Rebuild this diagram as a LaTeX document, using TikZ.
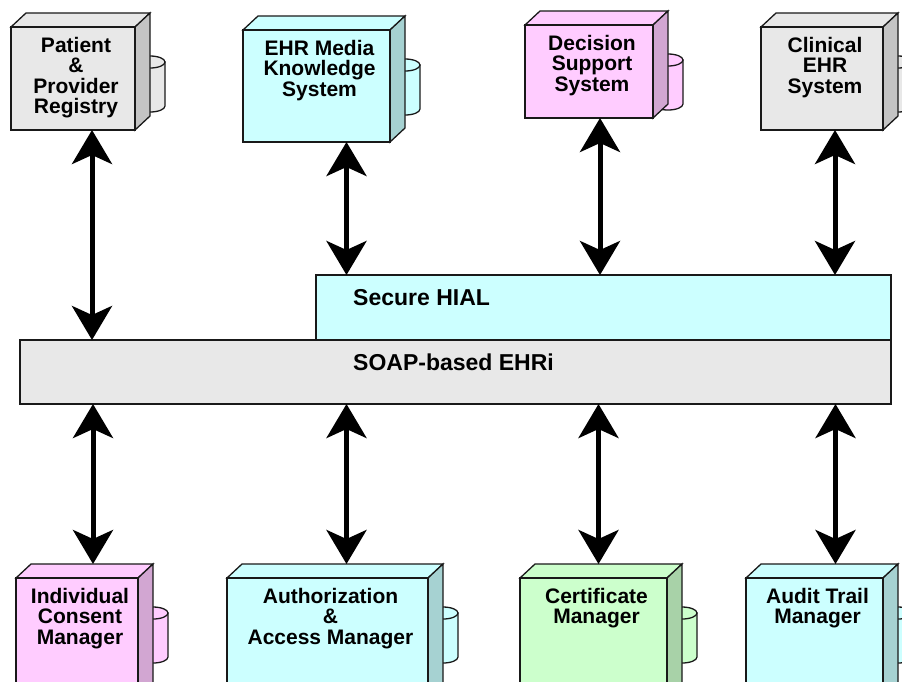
\documentclass[tikz,border=0pt]{standalone}
\usepackage{fontspec}
\setmainfont{Liberation Sans}
\usepackage{xcolor}
\definecolor{ehrgray}{HTML}{E8E8E8}
\definecolor{ehrgrayside}{HTML}{C4C4C4}
\definecolor{ehrcyan}{HTML}{CCFFFF}
\definecolor{ehrcyanside}{HTML}{A6D2D2}
\definecolor{ehrpink}{HTML}{FFCCFF}
\definecolor{ehrpinkside}{HTML}{D2A6D2}
\definecolor{ehrgreen}{HTML}{CCFFCC}
\definecolor{ehrgreenside}{HTML}{A8D2A8}
\usetikzlibrary{arrows.meta,positioning,calc}
\tikzset{
  ehredge/.style={draw=black!90,line width=1.3pt,line join=miter},
  ehrface/.style={ehredge,inner sep=0pt,outer sep=0pt},
  ehrtext/.style={font=\bfseries\fontsize{21}{20.5}\selectfont,align=center,inner sep=0pt},
  ehrbar/.style={ehredge,inner sep=0pt,outer sep=0pt,anchor=north west},
  ehrtitle/.style={font=\bfseries\fontsize{23}{24}\selectfont,inner sep=0pt},
  ehrflow/.style={<->,>={Stealth[length=34pt,width=40pt,inset=9pt]},line width=5pt},
}
% 3-D component box with a store behind it:
% #1 name, #2/#3 front top-left corner, #4 width, #5 height, #6 colour, #7 label
\newcommand{\ehrnode}[7]{%
  \filldraw[ehredge,fill=ehr#6] ({#2+#4},{#3+35}) -- ({#2+#4+30},{#3+35})
    -- ({#2+#4+30},{#3+79}) arc[start angle=0,end angle=180,x radius=15,y radius=6] -- cycle;
  \filldraw[ehredge,fill=ehr#6] ({#2+#4+15},{#3+35}) ellipse[x radius=15,y radius=6];
  \filldraw[ehredge,fill=ehr#6] (#2,#3) -- ++(15,-14) -- ++(#4,0) -- ++(-15,14) -- cycle;
  \filldraw[ehredge,fill=ehr#6side] ({#2+#4},#3) -- ++(15,-14) -- ++(0,#5) -- ++(-15,14) -- cycle;
  \node[ehrface,fill=ehr#6,minimum width=#4,minimum height=#5,anchor=north west] (#1) at (#2,#3) {};
  \node[ehrtext,anchor=north] at ([xshift=3,yshift=-10]#1.north) {#7};
}

\begin{document}
\begin{tikzpicture}[x=1pt,y=-1pt]
\useasboundingbox (0,0) rectangle (902,681);
\clip (0,0) rectangle (902,681);

% buses
\node[ehrbar,fill=ehrcyan,minimum width=575,minimum height=65] (hial) at (316,275) {};
\node[ehrbar,fill=ehrgray,minimum width=871,minimum height=64] (soap) at (20,340) {};
\node[ehrtitle,anchor=west] at ([xshift=37,yshift=-23]hial.north west) {Secure HIAL};
\node[ehrtitle] at ([xshift=-2,yshift=-22]soap.north) {SOAP-based EHRi};

% upper services
\ehrnode{pat}{11}{27}{124}{103}{gray}{Patient\\\&\\Provider\\Registry}
\ehrnode{media}{243}{30}{147}{112}{cyan}{EHR Media\\Knowledge\\System}
\ehrnode{dss}{525}{25}{128}{93}{pink}{Decision\\Support\\System}
\ehrnode{clin}{761}{27}{122}{103}{gray}{Clinical\\EHR\\System}

% lower services
\ehrnode{cons}{16}{578}{122}{130}{pink}{Individual\\Consent\\Manager}
\ehrnode{auth}{227}{578}{201}{130}{cyan}{Authorization\\\&\\Access Manager}
\ehrnode{cert}{520}{578}{147}{130}{green}{Certificate\\Manager}
\ehrnode{audit}{746}{578}{137}{130}{cyan}{Audit Trail\\Manager}

\draw[ehrflow] ([xshift=19]pat.south) -- ([xshift=19]pat.south |- soap.north);
\draw[ehrflow] ([xshift=30]media.south) -- ([xshift=30]media.south |- hial.north);
\draw[ehrflow] ([xshift=11]dss.south) -- ([xshift=11]dss.south |- hial.north);
\draw[ehrflow] ([xshift=13]clin.south) -- ([xshift=13]clin.south |- hial.north);

\draw[ehrflow] ([xshift=16]cons.north |- soap.south) -- ([xshift=16,yshift=14]cons.north);
\draw[ehrflow] ([xshift=19]auth.north |- soap.south) -- ([xshift=19,yshift=14]auth.north);
\draw[ehrflow] ([xshift=5]cert.north |- soap.south) -- ([xshift=5,yshift=14]cert.north);
\draw[ehrflow] ([xshift=21]audit.north |- soap.south) -- ([xshift=21,yshift=14]audit.north);
\end{tikzpicture}
\end{document}
